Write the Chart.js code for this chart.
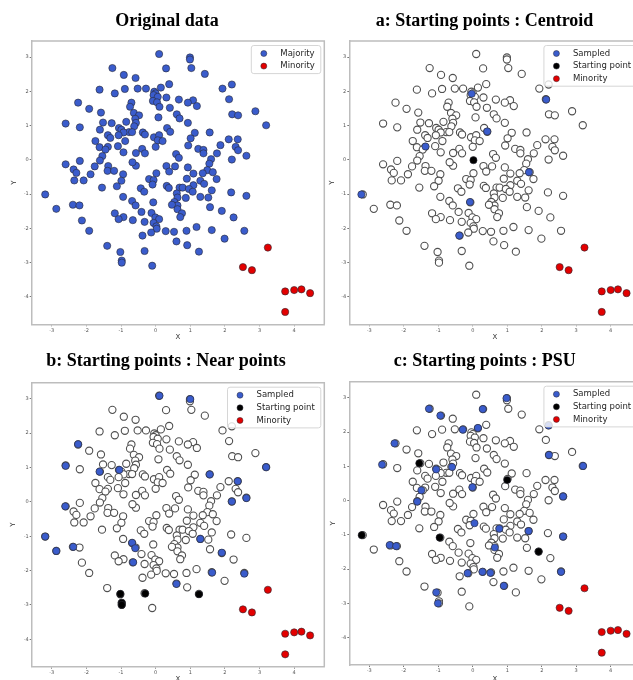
<!DOCTYPE html>
<html><head><meta charset="utf-8">
<script src="https://cdn.jsdelivr.net/npm/chart.js@4/dist/chart.umd.min.js"></script>
<style>
html,body{margin:0;padding:0;background:#fff;overflow:hidden;width:633px;height:680px;}
#wrap{position:relative;width:633px;height:680px;overflow:hidden;background:#fff;}
canvas{position:absolute;}
</style></head><body>
<div id="wrap">
<canvas id="p0"></canvas><canvas id="pa"></canvas><canvas id="pb"></canvas><canvas id="pc"></canvas>
</div>
<script>
// ---------- data ----------
const titles = ["Original data", "a: Starting points : Centroid", "b: Starting points : Near points", "c: Starting points : PSU"];
const xTicks = [-3, -2, -1, 0, 1, 2, 3, 4];
const yTicks = [-4, -3, -2, -1, 0, 1, 2, 3];
const xRange = [-3.58, 4.87];
const yRange = [-4.8, 3.47];

const majority = [
[0.10,3.09],[0.99,2.99],[0.99,2.93],[-1.25,2.68],[0.30,2.67],[1.03,2.68],[1.42,2.51],[-0.92,2.48],[-0.58,2.39],[0.39,2.21],
[2.20,2.20],[-1.62,2.05],[-0.89,2.07],[-0.52,2.08],[-0.28,2.08],[0.15,2.11],[1.93,2.08],[-0.04,1.99],[0.00,1.94],[-0.06,1.89],
[-1.18,1.94],[0.06,1.84],[0.31,1.82],[-2.24,1.67],[-0.70,1.67],[-0.08,1.72],[0.04,1.68],[0.67,1.76],[1.08,1.74],[0.93,1.67],
[2.12,1.77],[-0.74,1.55],[0.11,1.55],[1.19,1.57],[-1.92,1.49],[0.41,1.52],[2.88,1.42],[-1.58,1.38],[-0.63,1.37],[-0.48,1.30],
[0.61,1.33],[2.21,1.33],[2.38,1.30],[-0.59,1.20],[0.69,1.21],[0.08,1.24],[-0.85,1.11],[-0.57,1.08],[-2.60,1.06],[-1.52,1.09],
[-1.27,1.07],[0.93,1.08],[3.19,1.01],[-2.19,0.95],[-1.61,0.88],[-1.06,0.93],[-0.99,0.88],[-0.62,0.98],[0.33,0.93],[-0.77,0.81],
[-0.68,0.81],[-0.93,0.80],[-0.37,0.80],[-0.31,0.74],[0.42,0.82],[1.13,0.79],[1.56,0.80],[-1.07,0.72],[-1.38,0.72],[-1.31,0.64],
[-0.05,0.66],[0.10,0.72],[1.01,0.63],[2.11,0.60],[2.37,0.60],[-1.74,0.55],[-0.88,0.55],[0.06,0.57],[0.20,0.55],[-1.09,0.40],
[-1.38,0.38],[-1.62,0.37],[0.00,0.38],[0.94,0.42],[1.87,0.43],[2.31,0.38],[-1.45,0.30],[-0.39,0.32],[1.23,0.32],[1.38,0.29],
[2.38,0.28],[-0.93,0.22],[-0.57,0.20],[-0.31,0.19],[1.38,0.19],[1.77,0.19],[0.59,0.17],[-1.54,0.11],[2.62,0.12],[0.67,0.06],
[1.60,0.02],[-1.61,-0.02],[-2.19,-0.03],[2.20,0.01],[-2.60,-0.13],[-1.37,-0.18],[-0.57,-0.17],[-0.67,-0.07],[0.31,-0.18],[0.56,-0.19],
[0.93,-0.22],[1.55,-0.11],[-1.76,-0.19],[-2.37,-0.28],[-2.29,-0.38],[-1.39,-0.32],[-1.20,-0.32],[0.39,-0.34],[1.49,-0.30],[-1.88,-0.42],
[-0.94,-0.42],[0.02,-0.39],[1.09,-0.40],[1.36,-0.39],[1.65,-0.36],[-0.19,-0.56],[-2.35,-0.60],[-2.08,-0.60],[-0.99,-0.61],[-0.06,-0.59],
[1.29,-0.61],[1.76,-0.56],[0.90,-0.55],[1.40,-0.70],[1.09,-0.74],[-0.09,-0.72],[0.32,-0.76],[0.38,-0.82],[0.69,-0.81],[0.78,-0.81],
[-1.55,-0.81],[-0.43,-0.83],[-0.33,-0.93],[-1.12,-0.77],[0.96,-0.85],[1.07,-0.93],[1.62,-0.89],[2.18,-0.95],[0.61,-0.98],[-3.19,-1.01],
[-0.94,-1.08],[0.63,-1.10],[0.87,-1.11],[1.29,-1.08],[1.52,-1.10],[2.62,-1.05],[0.54,-1.23],[-0.68,-1.20],[-0.07,-1.24],[-2.39,-1.31],
[-2.20,-1.33],[-0.58,-1.33],[0.63,-1.33],[0.47,-1.31],[-2.87,-1.43],[-0.41,-1.52],[0.63,-1.44],[1.57,-1.38],[1.91,-1.49],[-1.18,-1.56],
[-0.12,-1.55],[0.76,-1.56],[0.71,-1.67],[-0.93,-1.67],[-1.07,-1.73],[-0.66,-1.76],[-0.01,-1.68],[0.10,-1.73],[2.25,-1.68],[-2.13,-1.77],
[-0.32,-1.81],[-0.06,-1.84],[0.02,-1.94],[0.03,-2.01],[1.18,-1.96],[1.62,-2.05],[-1.92,-2.07],[0.29,-2.08],[0.53,-2.10],[0.89,-2.07],
[2.56,-2.07],[-0.13,-2.12],[-0.38,-2.21],[1.99,-2.30],[0.60,-2.38],[-1.40,-2.51],[0.91,-2.49],[-1.02,-2.69],[-0.32,-2.66],[1.25,-2.68],
[-0.98,-2.94],[-0.98,-3.00],[-0.10,-3.09]
];
const minority = [[3.24,-2.56],[2.52,-3.13],[2.78,-3.22],[3.74,-3.84],[4.00,-3.80],[4.21,-3.78],[4.46,-3.89],[3.74,-4.44]];

const sampledA = [[-0.03,1.93],[2.13,1.76],[0.42,0.83],[-1.37,0.39],[1.63,-0.36],[-0.08,-1.23],[-0.39,-2.21],[-3.23,-1.01]];
const startA = [[0.02,-0.01]];

const sampledB = [[0.11,3.09],[1.00,2.99],[-2.24,1.68],[-2.60,1.05],[-1.62,0.88],[-1.05,0.93],[1.56,0.80],[3.19,1.01],[2.37,0.60],
[2.20,0.01],[2.62,0.11],[-2.61,-0.13],[-3.19,-1.01],[-2.87,-1.43],[-2.38,-1.31],[-0.68,-1.19],[-0.59,-1.35],[-0.65,-1.76],
[1.29,-1.08],[1.91,-1.48],[1.63,-2.06],[2.56,-2.09],[0.60,-2.39]];
const startB = [[-1.02,-2.68],[-0.98,-2.94],[-0.98,-3.00],[-0.30,-2.67],[1.25,-2.69]];

const sampledC = [[0.98,2.99],[-1.27,2.68],[0.29,2.67],[-0.94,2.48],[-0.29,2.07],[0.15,2.12],[-2.27,1.67],[2.21,1.33],[-2.63,1.05],
[-1.06,0.91],[-0.60,0.98],[3.20,1.01],[-0.01,0.39],[-1.49,0.30],[-1.61,-0.03],[2.62,0.12],[0.05,-0.66],[0.77,-0.82],[1.62,-0.89],
[2.62,-1.05],[-2.41,-1.30],[-2.22,-1.33],[0.64,-1.37],[-0.15,-2.12],[0.28,-2.08],[0.51,-2.11],[2.56,-2.08],[0.90,-2.49],
[-1.06,-2.68],[-1.01,-3.00],[2.20,2.19]];
const startC = [[-1.55,1.09],[1.00,0.60],[-3.22,-1.01],[-0.96,-1.08],[1.91,-1.49]];

// ---------- styles ----------
const SANS = '"DejaVu Sans", sans-serif';
const SERIF = '"Liberation Serif", "Times New Roman", serif';
const BLUE = '#3a5ccc', RED = '#e30000', BLACK = '#000000';
const EDGE = 'rgba(40,40,50,0.85)';

const toXY = arr => arr.map(p => ({x: p[0], y: p[1]}));

const framePlugin = {
  id: 'frameAndLegend',
  afterDatasetsDraw(chart) {
    const ctx = chart.ctx, ca = chart.chartArea;
    // top and right frame lines (left/bottom are the axis borders)
    ctx.save();
    ctx.strokeStyle = '#bdbdbd'; ctx.lineWidth = 1.5;
    ctx.beginPath();
    ctx.moveTo(ca.left, ca.top); ctx.lineTo(ca.right, ca.top); ctx.lineTo(ca.right, ca.bottom);
    ctx.stroke();
    // legend in upper right
    const items = chart.data.datasets.filter(d => d.showInLegend).sort((a, b) => a.legendRank - b.legendRank);
    ctx.font = '8.5px ' + SANS;
    const maxW = Math.max(...items.map(d => ctx.measureText(d.label).width));
    const right = ca.right - 3.5, left = right - (29 + maxW + 6);
    const top = ca.top + 4.5, rowH = 12.6;
    const bottom = top + 8 + (items.length - 1) * rowH + 7.5;
    ctx.fillStyle = 'rgba(255,255,255,0.8)';
    ctx.strokeStyle = '#d6d6d6'; ctx.lineWidth = 1;
    ctx.beginPath();
    if (ctx.roundRect) ctx.roundRect(left, top, right - left, bottom - top, 2.5); else ctx.rect(left, top, right - left, bottom - top);
    ctx.fill(); ctx.stroke();
    items.forEach((d, i) => {
      const y = top + 8 + i * rowH;
      ctx.beginPath(); ctx.arc(left + 12.5, y, 3, 0, Math.PI * 2);
      ctx.fillStyle = d.backgroundColor; ctx.fill();
      ctx.lineWidth = 0.6; ctx.strokeStyle = d.borderColor; ctx.stroke();
      ctx.fillStyle = '#262626'; ctx.textBaseline = 'middle'; ctx.textAlign = 'left';
      ctx.fillText(d.label, left + 29, y);
    });
    ctx.restore();
  }
};

function makeChart(id, p, title, datasets) {
  const cv = document.getElementById(id);
  cv.width = p.W; cv.height = p.H;
  cv.style.left = p.cl + 'px'; cv.style.top = p.ct + 'px';
  cv.style.width = p.W + 'px'; cv.style.height = p.H + 'px';
  const R = p.W - (p.r - p.cl);
  const L = Math.max(0, 2 * (p.tx - p.cl) - (p.r - p.cl));
  const yW = (p.l - p.cl) - L;
  const tPadTop = (p.ty - p.ct) - 10.8;
  const tPadBot = (p.t - p.ct) - tPadTop - 21.6;
  const xH = p.H - (p.b - p.ct);
  const xTitlePad = (p.ct + p.H - p.xty) - 4.2;
  const yTitlePad = Math.max(0, (p.ytx - p.cl - L) - 4.2);
  const axisCommon = {
    type: 'linear',
    grid: {display: true, drawOnChartArea: false, drawTicks: true, tickLength: 2, color: '#555', lineWidth: 0.8},
    border: {display: true, color: '#bdbdbd', width: 1.5},
    ticks: {font: {family: SANS, size: 5}, color: '#555', padding: 1, maxRotation: 0, autoSkip: false},
  };
  return new Chart(cv, {
    type: 'scatter',
    data: {datasets},
    options: {
      responsive: false, animation: false, devicePixelRatio: 1,
      layout: {padding: {left: L, right: R, top: 0, bottom: 0}, autoPadding: false},
      plugins: {
        legend: {display: false}, tooltip: {enabled: false},
        title: {display: true, text: title, color: '#000', font: {family: SERIF, size: 18, weight: 'bold', lineHeight: 1.2},
                padding: {top: tPadTop, bottom: tPadBot}}
      },
      scales: {
        x: Object.assign({}, axisCommon, {
          position: 'bottom', min: xRange[0], max: xRange[1],
          afterBuildTicks: s => { s.ticks = xTicks.map(v => ({value: v})); },
          afterFit: s => { s.height = xH; },
          title: {display: true, text: 'X', color: '#333', font: {family: SANS, size: 7, lineHeight: 1.2}, padding: {top: 0, bottom: xTitlePad}}
        }),
        y: Object.assign({}, axisCommon, {
          position: 'left', min: yRange[0], max: yRange[1],
          afterBuildTicks: s => { s.ticks = yTicks.map(v => ({value: v})); },
          afterFit: s => { s.width = yW; },
          title: {display: true, text: 'Y', color: '#333', font: {family: SANS, size: 7, lineHeight: 1.2}, padding: {top: yTitlePad, bottom: 0}}
        })
      }
    },
    plugins: [framePlugin]
  });
}

const pt = {pointRadius: 3.6, pointHoverRadius: 3.6, borderWidth: 0.7, showLine: false};
function filled(label, arr, color, order, rank) {
  return Object.assign({label, data: toXY(arr), backgroundColor: color, borderColor: EDGE, order, showInLegend: true, legendRank: rank}, pt);
}
function hollow(arr) {
  return Object.assign({label: 'Majority', data: toXY(arr), backgroundColor: '#ffffff', borderColor: '#505050', order: 9, showInLegend: false}, pt, {borderWidth: 1.1});
}

const P = {
  p0: {cl: 0, ct: 0, W: 330, H: 345, l: 31.7, t: 41, r: 324.3, b: 324.3, tx: 167, ty: 21, ytx: 14, xty: 337},
  pa: {cl: 318, ct: 0, W: 330, H: 345, l: 349.3, t: 41, r: 640.7, b: 324.3, tx: 484.5, ty: 21, ytx: 332.3, xty: 337},
  pb: {cl: 0, ct: 340, W: 330, H: 345, l: 31.7, t: 382.7, r: 324.3, b: 666.7, tx: 166, ty: 361.7, ytx: 13, xty: 679},
  pc: {cl: 318, ct: 340, W: 330, H: 345, l: 349.3, t: 381.7, r: 640.7, b: 665, tx: 484.7, ty: 361.7, ytx: 332.3, xty: 679}
};

makeChart('p0', P.p0, titles[0], [
  filled('Majority', majority, BLUE, 2, 0),
  filled('Minority', minority, RED, 1, 1)
]);
makeChart('pa', P.pa, titles[1], [
  hollow(majority),
  filled('Sampled', sampledA, BLUE, 3, 0),
  filled('Starting point', startA, BLACK, 1, 1),
  filled('Minority', minority, RED, 2, 2)
]);
makeChart('pb', P.pb, titles[2], [
  hollow(majority),
  filled('Sampled', sampledB, BLUE, 3, 0),
  filled('Starting point', startB, BLACK, 1, 1),
  filled('Minority', minority, RED, 2, 2)
]);
makeChart('pc', P.pc, titles[3], [
  hollow(majority),
  filled('Sampled', sampledC, BLUE, 3, 0),
  filled('Starting point', startC, BLACK, 1, 1),
  filled('Minority', minority, RED, 2, 2)
]);
</script>
</body></html>
